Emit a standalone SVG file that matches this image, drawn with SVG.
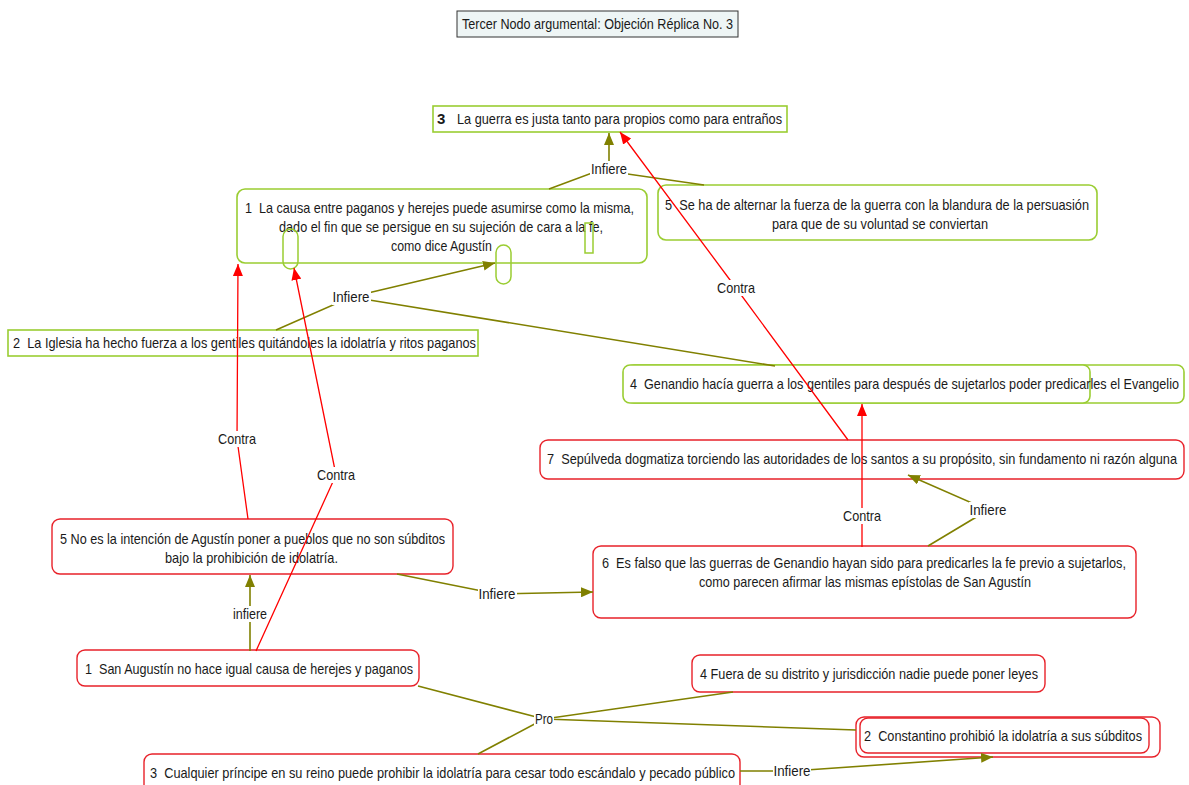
<svg xmlns="http://www.w3.org/2000/svg" width="1189" height="785" viewBox="0 0 1189 785">
<style>
text{font-family:"Liberation Sans",Arial,sans-serif;font-size:15px;fill:#1a1a1a;white-space:pre}
.g{fill:#fff;stroke:#9acd32;stroke-width:1.6}
.r{fill:#fff;stroke:#e8222a;stroke-width:1.4}
.o{fill:none;stroke:#808000;stroke-width:1.6}
.c{fill:none;stroke:#ff0000;stroke-width:1.3}
.lb{fill:#fff}
.mid{text-anchor:middle}
</style>
<defs>
<marker id="ao" viewBox="0 0 12 10" refX="12" refY="5" markerWidth="12" markerHeight="10" markerUnits="userSpaceOnUse" orient="auto"><path d="M0,0L12,5L0,10z" fill="#808000"/></marker>
<marker id="ar" viewBox="0 0 12 10" refX="12" refY="5" markerWidth="12" markerHeight="10" markerUnits="userSpaceOnUse" orient="auto"><path d="M0,0L12,5L0,10z" fill="#ff0000"/></marker>
</defs>
<rect width="1189" height="785" fill="#fff"/>

<g id="title">
<rect x="457" y="11" width="281" height="26" fill="#eef5f5" stroke="#333" stroke-width="1"/>
<text x="462" y="29" textLength="271" lengthAdjust="spacingAndGlyphs">Tercer Nodo argumental: Objeción Réplica No. 3</text>
</g>

<g id="n3">
<rect class="g" x="433" y="106" width="354" height="26"/>
<text x="437" y="124" font-weight="bold">3</text>
<text x="457" y="124" textLength="325" lengthAdjust="spacingAndGlyphs">La guerra es justa tanto para propios como para entraños</text>
</g>

<g id="n1">
<rect class="g" x="237" y="189" width="410" height="74" rx="8"/>
<text x="245" y="213" textLength="389" lengthAdjust="spacingAndGlyphs" xml:space="preserve">1  La causa entre paganos y herejes puede asumirse como la misma,</text>
<text x="279" y="232" textLength="324" lengthAdjust="spacingAndGlyphs">dado el fin que se persigue en su sujeción de cara a la fe,</text>
<text x="391" y="251" textLength="101" lengthAdjust="spacingAndGlyphs">como dice Agustín</text>
<rect x="283" y="229" width="15" height="40" rx="7.5" fill="none" stroke="#9acd32" stroke-width="1.5"/>
<rect x="496" y="245" width="15" height="39" rx="7.5" fill="none" stroke="#9acd32" stroke-width="1.5"/>
<rect x="585" y="223" width="8" height="30" fill="none" stroke="#9acd32" stroke-width="1.5"/>
</g>

<g id="n5r">
<rect class="g" x="658" y="185" width="439" height="55" rx="8"/>
<text x="665" y="210" textLength="424" lengthAdjust="spacingAndGlyphs" xml:space="preserve">5  Se ha de alternar la fuerza de la guerra con la blandura de la persuasión</text>
<text x="772" y="229" textLength="216" lengthAdjust="spacingAndGlyphs">para que de su voluntad se conviertan</text>
</g>

<g id="n2">
<rect class="g" x="8" y="330" width="470" height="26"/>
<text x="13" y="348" textLength="463" lengthAdjust="spacingAndGlyphs" xml:space="preserve">2  La Iglesia ha hecho fuerza a los gentiles quitándoles la idolatría y ritos paganos</text>
</g>

<g id="n4">
<rect class="g" x="627" y="365" width="557" height="38" rx="7"/>
<rect class="g" x="623" y="365" width="467" height="38" rx="7" fill="none" stroke-width="2.2"/>
<text x="630" y="389" textLength="549" lengthAdjust="spacingAndGlyphs" xml:space="preserve">4  Genandio hacía guerra a los gentiles para después de sujetarlos poder predicarles el Evangelio</text>
</g>

<g id="n7">
<rect class="r" x="540" y="440" width="644" height="39" rx="8"/>
<text x="547" y="464" textLength="630" lengthAdjust="spacingAndGlyphs" xml:space="preserve">7  Sepúlveda dogmatiza torciendo las autoridades de los santos a su propósito, sin fundamento ni razón alguna</text>
</g>

<g id="n6">
<rect class="r" x="593" y="546" width="543" height="72" rx="8"/>
<text x="602" y="568" textLength="524" lengthAdjust="spacingAndGlyphs" xml:space="preserve">6  Es falso que las guerras de Genandio hayan sido para predicarles la fe previo a sujetarlos,</text>
<text x="699" y="587" textLength="332" lengthAdjust="spacingAndGlyphs">como parecen afirmar las mismas epístolas de San Agustín</text>
</g>

<g id="n5l">
<rect class="r" x="52" y="519" width="401" height="55" rx="8"/>
<text x="60" y="544" textLength="385" lengthAdjust="spacingAndGlyphs">5 No es la intención de Agustín poner a pueblos que no son súbditos</text>
<text x="165" y="563" textLength="173" lengthAdjust="spacingAndGlyphs">bajo la prohibición de idolatría.</text>
</g>

<g id="n1b">
<rect class="r" x="77" y="650" width="342" height="36" rx="8"/>
<text x="85" y="674" textLength="328" lengthAdjust="spacingAndGlyphs" xml:space="preserve">1  San Augustín no hace igual causa de herejes y paganos</text>
</g>

<g id="n4f">
<rect class="r" x="692" y="655" width="353" height="37" rx="8"/>
<text x="700" y="679" textLength="338" lengthAdjust="spacingAndGlyphs">4 Fuera de su distrito y jurisdicción nadie puede poner leyes</text>
</g>

<g id="n2c">
<rect class="r" x="856" y="717" width="304" height="40" rx="8"/>
<rect class="r" x="860" y="718" width="289" height="35" rx="8" fill="none"/>
<text x="864" y="741" textLength="278" lengthAdjust="spacingAndGlyphs" xml:space="preserve">2  Constantino prohibió la idolatría a sus súbditos</text>
</g>

<g id="n3c">
<rect class="r" x="144" y="754" width="596" height="42" rx="8"/>
<text x="150" y="778" textLength="585" lengthAdjust="spacingAndGlyphs" xml:space="preserve">3  Cualquier príncipe en su reino puede prohibir la idolatría para cesar todo escándalo y pecado público</text>
</g>

<g id="connectors">
<path class="o" d="M549,189L600,170L704,185"/>
<path class="o" d="M609,165L609,133" marker-end="url(#ao)"/>
<path class="o" d="M276,330L351,297L775,366"/>
<path class="o" d="M351,297L495,263" marker-end="url(#ao)"/>
<path class="c" d="M848,440L736,288L620,132" marker-end="url(#ar)"/>
<path class="c" d="M248,519L237,439L238,264" marker-end="url(#ar)"/>
<path class="c" d="M256,651L336,475L294,268" marker-end="url(#ar)"/>
<path class="o" d="M250,651L250,575" marker-end="url(#ao)"/>
<path class="o" d="M397,574L497,594L593,592" marker-end="url(#ao)"/>
<path class="o" d="M928,546L988,510L908,475" marker-end="url(#ao)"/>
<path class="c" d="M862,547L862,404" marker-end="url(#ar)"/>
<path class="o" d="M418,686L544,719L733,692M544,719L856,730M544,719L478,754"/>
<path class="o" d="M740,771L792,771L993,757" marker-end="url(#ao)"/>
</g>

<g id="labels">
<rect class="lb" x="590" y="161" width="38" height="16"/>
<text class="mid" x="609" y="174" textLength="36" lengthAdjust="spacingAndGlyphs">Infiere</text>
<rect class="lb" x="332" y="289" width="39" height="16"/>
<text class="mid" x="351" y="302" textLength="37" lengthAdjust="spacingAndGlyphs">Infiere</text>
<rect class="lb" x="716" y="280" width="40" height="16"/>
<text class="mid" x="736" y="293" textLength="38" lengthAdjust="spacingAndGlyphs">Contra</text>
<rect class="lb" x="217" y="431" width="40" height="16"/>
<text class="mid" x="237" y="444" textLength="38" lengthAdjust="spacingAndGlyphs">Contra</text>
<rect class="lb" x="316" y="467" width="40" height="16"/>
<text class="mid" x="336" y="480" textLength="38" lengthAdjust="spacingAndGlyphs">Contra</text>
<rect class="lb" x="232" y="606" width="36" height="16"/>
<text class="mid" x="250" y="619" textLength="34" lengthAdjust="spacingAndGlyphs">infiere</text>
<rect class="lb" x="478" y="586" width="39" height="16"/>
<text class="mid" x="497" y="599" textLength="37" lengthAdjust="spacingAndGlyphs">Infiere</text>
<rect class="lb" x="969" y="502" width="39" height="16"/>
<text class="mid" x="988" y="515" textLength="37" lengthAdjust="spacingAndGlyphs">Infiere</text>
<rect class="lb" x="842" y="508" width="40" height="16"/>
<text class="mid" x="862" y="521" textLength="38" lengthAdjust="spacingAndGlyphs">Contra</text>
<rect class="lb" x="534" y="711" width="20" height="16"/>
<text class="mid" x="544" y="724" textLength="18" lengthAdjust="spacingAndGlyphs">Pro</text>
<rect class="lb" x="773" y="763" width="38" height="16"/>
<text class="mid" x="792" y="776" textLength="37" lengthAdjust="spacingAndGlyphs">Infiere</text>
</g>
</svg>
